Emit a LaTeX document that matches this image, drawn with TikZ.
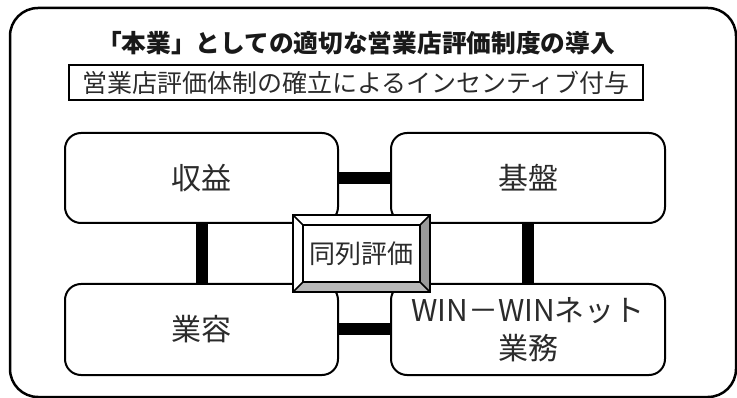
\documentclass[tikz,border=0pt]{standalone}
\usepackage{fontspec}
\setmainfont{Noto Sans CJK JP}
\usetikzlibrary{calc}
\definecolor{txt}{HTML}{2B2B2B}
\definecolor{bevR}{HTML}{9A9A9A}
\definecolor{bevB}{HTML}{B8B8B8}
\begin{document}
\begin{tikzpicture}[x=1pt,y=-1pt,
  box/.style={draw=black, line width=2pt, rounded corners=16pt, fill=white,
    minimum width=273pt, minimum height=90pt, text=txt, outer sep=0pt,
    font=\fontsize{30}{38}\selectfont, align=center, inner sep=0pt},
  conn/.style={line width=12pt, black},
  bevline/.style={line width=1.5pt, black},
]
\useasboundingbox (0,0) rectangle (737,398);
\draw[line width=2.5pt, rounded corners=28pt] (10,8) rectangle (736,397);
\node[font=\bfseries\fontsize{24.7}{28}\selectfont, text=black!90] (title) at (356,43)
  {「本業」としての適切な営業店評価制度の導入};
\node[draw, line width=2pt, minimum width=574pt, minimum height=35pt, inner sep=0pt,
  font=\fontsize{25}{28}\selectfont, text=txt] (sub) at (356,82.5)
  {営業店評価体制の確立によるインセンティブ付与};

\node[box] (shueki) at (201.5,178) {収益};
\node[box, minimum width=274pt] (kiban) at (528,178) {基盤};
\node[box, minimum height=91pt] (gyoyo) at (201.5,329.5) {業容};
\node[box, minimum width=274pt, minimum height=91pt] (win) at (528,329.5) {WIN－WINネット\\業務};

\draw[conn] (shueki.east) -- (kiban.west);
\draw[conn] (gyoyo.east) -- (win.west);
\draw[conn] (shueki.south) -- (gyoyo.north);
\draw[conn] (kiban.south) -- (win.north);

\node[fill=white, minimum width=137pt, minimum height=77pt, inner sep=0pt, outer sep=0pt,
  font=\fontsize{26}{30}\selectfont, text=txt] (c) at (361.5,253.5) {同列評価};
\coordinate (i1) at ($(c.north west)+(10,10)$);
\coordinate (i2) at ($(c.north east)+(-10,10)$);
\coordinate (i3) at ($(c.south east)+(-10,-10)$);
\coordinate (i4) at ($(c.south west)+(10,-10)$);
\fill[bevR] (c.north east) -- (c.south east) -- (i3) -- (i2) -- cycle;
\fill[bevB] (c.south west) -- (c.south east) -- (i3) -- (i4) -- cycle;
\draw[bevline] (i1) rectangle (i3);
\draw[bevline] (c.north west) -- (i1) (c.north east) -- (i2) (c.south east) -- (i3) (c.south west) -- (i4);
\draw[line width=2.2pt] (c.north west) rectangle (c.south east);
\end{tikzpicture}
\end{document}
